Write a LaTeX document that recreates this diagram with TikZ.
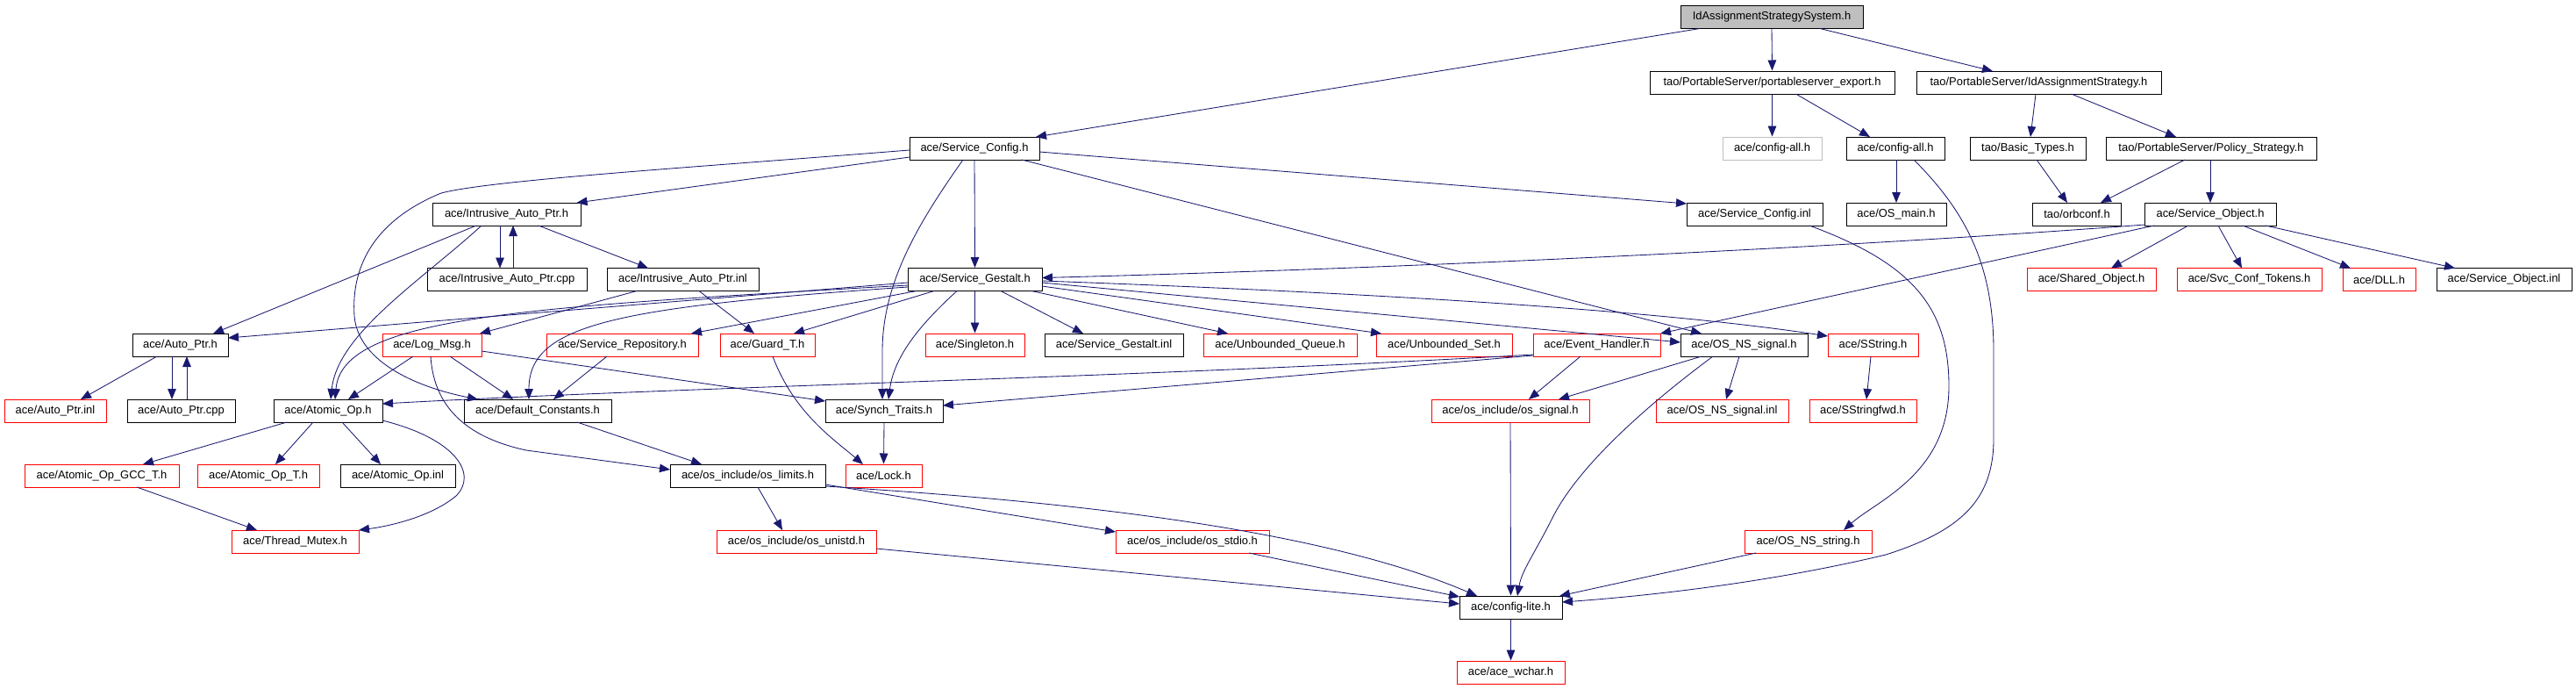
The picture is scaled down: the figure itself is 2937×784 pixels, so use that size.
\documentclass[tikz,border=0pt]{standalone}
\usepackage{fontspec}
\setmainfont{Liberation Sans}
\usetikzlibrary{arrows.meta,calc}
\definecolor{edgec}{HTML}{191970}
\definecolor{grayc}{HTML}{BFBFBF}
\newcommand\nfont{\fontsize{9.2pt}{11pt}\selectfont}
\newcommand\nd[6]{\node[#5, minimum width=#4*0.25mm] (#1) at (#2,#3) {#6};}
\tikzset{
  nb/.style={draw=black, line width=0.25mm, fill=white, minimum height=6.5mm, inner sep=0pt, font=\nfont},
  nr/.style={nb, draw=red},
  ng/.style={nb, draw=grayc},
  nroot/.style={nb, fill=grayc},
  dep/.style={draw=edgec, line width=0.6pt, -{Triangle[length=3mm,width=2.4mm]}},
}
\begin{document}
\begin{tikzpicture}[x=0.25mm, y=-0.25mm]
\fill[white] (0,0) rectangle (2937,784);
\useasboundingbox (0,0) rectangle (2937,784);
% row 0
\nd{sys}{2020}{19.5}{208}{nroot}{IdAssignmentStrategySystem.h}
% row 1
\nd{pse}{2020.5}{94}{279}{nb}{tao/PortableServer/portableserver\_export.h}
\nd{ias}{2324.5}{94}{279}{nb}{tao/PortableServer/IdAssignmentStrategy.h}
% row 2
\nd{sconf}{1111}{169}{148}{nb}{ace/Service\_Config.h}
\nd{cfgallg}{2020.5}{169}{113}{ng}{ace/config-all.h}
\nd{cfgall}{2161}{169}{112}{nb}{ace/config-all.h}
\nd{basic}{2312}{169}{132}{nb}{tao/Basic\_Types.h}
\nd{pol}{2521}{169}{240}{nb}{tao/PortableServer/Policy\_Strategy.h}
% row 3
\nd{iaph}{577.5}{244}{169}{nb}{ace/Intrusive\_Auto\_Ptr.h}
\nd{sconfinl}{2000.5}{244}{155}{nb}{ace/Service\_Config.inl}
\nd{osmain}{2162}{244}{114}{nb}{ace/OS\_main.h}
\nd{orbconf}{2368}{244}{101}{nb}{tao/orbconf.h}
\nd{sobj}{2520}{244}{150}{nb}{ace/Service\_Object.h}
% row 4
\nd{iapcpp}{578}{318.5}{182}{nb}{ace/Intrusive\_Auto\_Ptr.cpp}
\nd{iapinl}{778.5}{318.5}{173}{nb}{ace/Intrusive\_Auto\_Ptr.inl}
\nd{sgest}{1111.5}{318.5}{153}{nb}{ace/Service\_Gestalt.h}
\nd{shobj}{2384.5}{318.5}{147}{nr}{ace/Shared\_Object.h}
\nd{svctok}{2564.5}{318.5}{165}{nr}{ace/Svc\_Conf\_Tokens.h}
\nd{dll}{2712.5}{318.5}{83}{nr}{ace/DLL.h}
\nd{sobjinl}{2855}{318.5}{154}{nb}{ace/Service\_Object.inl}
% row 5
\nd{autoh}{205.5}{393}{109}{nb}{ace/Auto\_Ptr.h}
\nd{logmsg}{492.5}{393}{113}{nr}{ace/Log\_Msg.h}
\nd{srepo}{709.5}{393}{173}{nr}{ace/Service\_Repository.h}
\nd{guard}{875}{393}{108}{nr}{ace/Guard\_T.h}
\nd{singleton}{1111.5}{393}{113}{nr}{ace/Singleton.h}
\nd{sgestinl}{1270}{393}{158}{nb}{ace/Service\_Gestalt.inl}
\nd{uqueue}{1459.5}{393}{175}{nr}{ace/Unbounded\_Queue.h}
\nd{uset}{1646.5}{393}{155}{nr}{ace/Unbounded\_Set.h}
\nd{evh}{1820.5}{393}{145}{nr}{ace/Event\_Handler.h}
\nd{osnssig}{1988.5}{393}{145}{nb}{ace/OS\_NS\_signal.h}
\nd{sstring}{2135.5}{393}{103}{nr}{ace/SString.h}
% row 6
\nd{autoinl}{63}{468}{116}{nr}{ace/Auto\_Ptr.inl}
\nd{autocpp}{206.5}{468}{123}{nb}{ace/Auto\_Ptr.cpp}
\nd{atomic}{374}{468}{124}{nb}{ace/Atomic\_Op.h}
\nd{defconst}{613}{468}{168}{nb}{ace/Default\_Constants.h}
\nd{synch}{1008}{468}{134}{nb}{ace/Synch\_Traits.h}
\nd{ossignal}{1722}{468}{180}{nr}{ace/os\_include/os\_signal.h}
\nd{osnssiginl}{1963.5}{468}{151}{nr}{ace/OS\_NS\_signal.inl}
\nd{sstringfwd}{2124}{468}{122}{nr}{ace/SStringfwd.h}
% row 7
\nd{gcc}{116}{542}{176}{nr}{ace/Atomic\_Op\_GCC\_T.h}
\nd{opt}{294.5}{542}{139}{nr}{ace/Atomic\_Op\_T.h}
\nd{opinl}{453.5}{542}{131}{nb}{ace/Atomic\_Op.inl}
\nd{oslimits}{852.5}{542}{177}{nb}{ace/os\_include/os\_limits.h}
\nd{lock}{1007.5}{542}{87}{nr}{ace/Lock.h}
% row 8
\nd{mutex}{336.5}{617}{145}{nr}{ace/Thread\_Mutex.h}
\nd{unistd}{908}{617}{182}{nr}{ace/os\_include/os\_unistd.h}
\nd{stdio}{1359.5}{617}{175}{nr}{ace/os\_include/os\_stdio.h}
\nd{osnsstr}{2061.5}{617}{145}{nr}{ace/OS\_NS\_string.h}
% row 9-10
\nd{cfglite}{1722.5}{692}{117}{nb}{ace/config-lite.h}
\nd{wchar}{1722.5}{766}{123}{nr}{ace/ace\_wchar.h}

% ---- edges ----
\draw[dep] ($(sys)+(-82,13)$) -- ($(sconf)+(70,-13)$);
\draw[dep] (sys.south) -- (pse.north);
\draw[dep] ($(sys)+(55,13)$) -- ($(ias)+(-52.5,-13)$);
\draw[dep] (pse.south) -- (cfgallg.north);
\draw[dep] ($(pse)+(27,13)$) -- ($(cfgall)+(-29,-13)$);
\draw[dep] ($(ias)+(-3.5,13)$) -- ($(basic)+(3,-13)$);
\draw[dep] ($(ias)+(37,13)$) -- ($(pol)+(-40,-13)$);
\draw[dep] ($(cfgall)+(1,13)$) -- ($(osmain)+(0,-13)$);
\draw[dep] ($(cfgall)+(21,13)$) .. controls (2240,240) and (2273,300) .. (2273,400)
   -- (2273,500) .. controls (2273,570) and (2235,605) .. (2150,632)
   .. controls (2000,668) and (1850,681) .. ($(cfglite)+(58.5,-6)$);
\draw[dep] ($(basic)+(10,13)$) -- ($(orbconf)+(-11,-13)$);
\draw[dep] ($(pol)+(-30,13)$) -- ($(orbconf)+(27,-13)$);
\draw[dep] ($(pol)+(-1,13)$) -- ($(sobj)+(0,-13)$);
\draw[dep] ($(sobj)+(-25,13)$) -- ($(shobj)+(22.5,-13)$);
\draw[dep] ($(sobj)+(9,13)$) -- ($(svctok)+(-8.5,-13)$);
\draw[dep] ($(sobj)+(37,13)$) -- ($(dll)+(-32.5,-13)$);
\draw[dep] ($(sobj)+(63,13)$) -- ($(sobjinl)+(-56,-13)$);
\draw[dep] ($(sobj)+(-75,12)$) .. controls (2200,275) and (1700,303) .. ($(sgest)+(76.5,-2)$);
\draw[dep] ($(sobj)+(-64,13)$) -- ($(evh)+(72.5,-13)$);
% Service_Config
\draw[dep] ($(sconf)+(-74,10)$) -- ($(iaph)+(80,-13)$);
\draw[dep] ($(sconf)+(-74,2)$) .. controls (800,190) and (560,205) .. (503,220)
   .. controls (430,250) and (400,300) .. (404,360)
   .. controls (408,410) and (470,440) .. ($(defconst)+(-68,-13)$);
\draw[dep] (sconf.south) -- (sgest.north);
\draw[dep] ($(sconf)+(-13,13)$) .. controls (1050,250) and (1006,320) .. (1006,400) -- ($(synch)+(-2,-13)$);
\draw[dep] ($(sconf)+(74,4)$) -- ($(sconfinl)+(-77.5,-12)$);
\draw[dep] ($(sconf)+(54,13)$) -- ($(osnssig)+(-48.5,-13)$);
% Intrusive_Auto_Ptr
\draw[dep] ($(iaph)+(-7.5,13)$) -- ($(iapcpp)+(-8,-13)$);
\draw[dep] ($(iapcpp)+(7,-13)$) -- ($(iaph)+(7.5,13)$);
\draw[dep] ($(iaph)+(36.5,13)$) -- ($(iapinl)+(-39.5,-13)$);
\draw[dep] ($(iaph)+(-34.5,13)$) -- ($(autoh)+(37.5,-13)$);
\draw[dep] ($(iaph)+(-28.5,13)$) .. controls (480,320) and (385,380) .. ($(atomic)+(3,-13)$);
\draw[dep] ($(iapinl)+(18.5,13)$) -- ($(guard)+(-15,-13)$);
\draw[dep] ($(iapinl)+(-52.5,13)$) -- ($(logmsg)+(54.5,-13)$);
% Service_Gestalt
\draw[dep] ($(sgest)+(-76.5,3.5)$) -- ($(autoh)+(54.5,-8)$);
\draw[dep] ($(sgest)+(-76.5,6.5)$) .. controls (600,350) and (390,360) .. ($(atomic)+(8,-13)$);
\draw[dep] ($(sgest)+(-76.5,8.5)$) .. controls (700,350) and (603,370) .. ($(defconst)+(-10,-13)$);
\draw[dep] ($(sgest)+(-66.5,13)$) -- ($(srepo)+(78.5,-13)$);
\draw[dep] ($(sgest)+(-46.5,13)$) -- ($(guard)+(30,-13)$);
\draw[dep] ($(sgest)+(-20.5,13)$) .. controls (1060,360) and (1020,400) .. ($(synch)+(5,-13)$);
\draw[dep] (sgest.south) -- (singleton.north);
\draw[dep] ($(sgest)+(29.5,13)$) -- ($(sgestinl)+(-35,-13)$);
\draw[dep] ($(sgest)+(64.5,13)$) -- ($(uqueue)+(-59.5,-13)$);
\draw[dep] ($(sgest)+(76.5,7.5)$) -- ($(uset)+(-71.5,-13)$);
\draw[dep] ($(sgest)+(76.5,3.5)$) -- ($(osnssig)+(-72.5,-3)$);
\draw[dep] ($(sgest)+(76.5,1.5)$) .. controls (1600,335) and (1900,355) .. ($(sstring)+(-51.5,-10)$);
% Event_Handler / OS_NS_signal
\draw[dep] ($(evh)+(-72.5,11)$) .. controls (1300,430) and (800,440) .. ($(atomic)+(62,-8)$);
\draw[dep] ($(evh)+(-72.5,12)$) -- ($(synch)+(67,-6)$);
\draw[dep] ($(evh)+(-18.5,13)$) -- ($(ossignal)+(21,-13)$);
\draw[dep] ($(osnssig)+(-48.5,13)$) -- ($(ossignal)+(55,-13)$);
\draw[dep] ($(osnssig)+(-5.5,13)$) -- ($(osnssiginl)+(4.5,-13)$);
\draw[dep] ($(osnssig)+(-35.5,13)$) .. controls (1880,460) and (1800,530) .. (1770,590)
   .. controls (1750,630) and (1735,650) .. ($(cfglite)+(7.5,-13)$);
\draw[dep] ($(sstring)+(-2.5,13)$) -- ($(sstringfwd)+(4,-13)$);
% Log_Msg etc.
\draw[dep] ($(logmsg)+(-21.5,13)$) -- ($(atomic)+(23,-13)$);
\draw[dep] ($(logmsg)+(20.5,13)$) -- ($(defconst)+(-28,-13)$);
\draw[dep] ($(logmsg)+(56.5,7)$) -- ($(synch)+(-67,-11)$);
\draw[dep] ($(logmsg)+(-1.5,13)$) .. controls (495,470) and (540,500) .. (600,513) -- ($(oslimits)+(-88.5,-7)$);
\draw[dep] ($(srepo)+(-17.5,13)$) -- ($(defconst)+(18,-13)$);
\draw[dep] ($(guard)+(6,13)$) .. controls (905,470) and (950,500) .. ($(lock)+(-23.5,-13)$);
\draw[dep] (synch.south) -- (lock.north);
\draw[dep] ($(defconst)+(45,13)$) -- ($(oslimits)+(-52.5,-13)$);
\draw[dep] ($(oslimits)+(11.5,13)$) -- ($(unistd)+(-16,-13)$);
\draw[dep] ($(oslimits)+(88.5,10)$) -- ($(stdio)+(-87.5,-11)$);
\draw[dep] ($(oslimits)+(88.5,12)$) .. controls (1200,570) and (1500,600) .. ($(cfglite)+(-38.5,-13)$);
\draw[dep] ($(unistd)+(91,8)$) -- ($(cfglite)+(-58.5,-4)$);
\draw[dep] ($(stdio)+(64.5,13)$) -- ($(cfglite)+(-58.5,-12)$);
\draw[dep] (ossignal.south) -- (cfglite.north);
\draw[dep] ($(osnsstr)+(-59.5,13)$) -- ($(cfglite)+(55.5,-13)$);
\draw[dep] ($(sconfinl)+(62.5,13)$) .. controls (2180,300) and (2222,350) .. (2222,440)
   .. controls (2222,540) and (2140,570) .. ($(osnsstr)+(40.5,-13)$);
\draw[dep] (cfglite.south) -- (wchar.north);
% Atomic_Op / Auto_Ptr
\draw[dep] ($(atomic)+(-47,13)$) -- ($(gcc)+(47,-13)$);
\draw[dep] ($(atomic)+(-17,13)$) -- ($(opt)+(19.5,-13)$);
\draw[dep] ($(atomic)+(16,13)$) -- ($(opinl)+(-19.5,-13)$);
\draw[dep] ($(atomic)+(62,11)$) .. controls (520,500) and (545,540) .. (520,565)
   .. controls (490,590) and (440,600) .. ($(mutex)+(72.5,-13)$);
\draw[dep] ($(gcc)+(40,13)$) -- ($(mutex)+(-43.5,-13)$);
\draw[dep] ($(autoh)+(-26.5,13)$) -- ($(autoinl)+(29,-13)$);
\draw[dep] ($(autoh)+(-9.5,13)$) -- ($(autocpp)+(-10.5,-13)$);
\draw[dep] ($(autocpp)+(6.5,-13)$) -- ($(autoh)+(7.5,13)$);
\end{tikzpicture}
\end{document}
